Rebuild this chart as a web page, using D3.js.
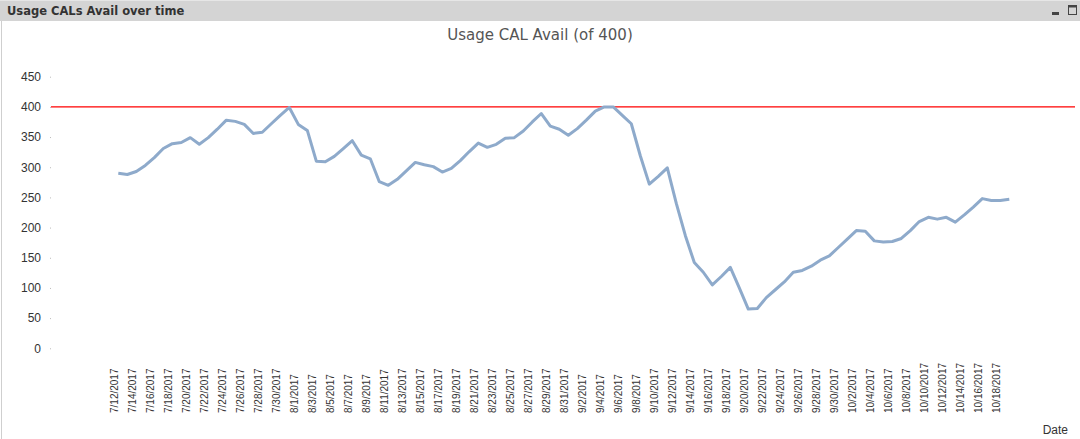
<!DOCTYPE html>
<html><head><meta charset="utf-8">
<script src="https://cdn.jsdelivr.net/npm/d3@7"></script>
<style>
html,body{margin:0;padding:0;background:#fff;}
svg{display:block;}
</style></head>
<body>
<svg id="c" width="1080" height="439"></svg>
<script>
const panelTitle = "Usage CALs Avail over time";
const chartTitle = "Usage CAL Avail (of 400)";
const xAxisTitle = "Date";
const startDate = "2017-07-12";
const endDate = "2017-10-19";
const values = [
 290,288,293,303,316,331,339,341,349,338,349,363,378,376,371,356,358,372,386,399,
 371,361,310,309,318,331,344,320,314,276,270,280,294,308,304,301,292,298,311,326,
 340,333,338,348,349,360,375,389,368,363,353,
 364,378,393,400,400,386,372,319,272,285,299,240,187,142,126,105,119,134,100,65,
 66,84,97,110,126,129,136,146,153,167,
 181,195,194,178,176,177,182,195,210,217,214,217,209,221,234,248,245,245,247
];
const yTicks = [0,50,100,150,200,250,300,350,400,450];
const refValue = 400;

const parse = d3.timeParse("%Y-%m-%d");
const dates = d3.timeDay.range(parse(startDate), d3.timeDay.offset(parse(endDate),1));
const data = dates.map((d,i)=>({date:d, value:values[i]}));
const tickDates = dates.filter((d,i)=> i%2===0 && d3.timeDay.count(d, parse("2017-10-18"))>=0);
const fmt = d => (d.getMonth()+1)+"/"+d.getDate()+"/"+d.getFullYear();

const svg = d3.select("#c");
// panel header
svg.append("rect").attr("x",0).attr("y",0).attr("width",1080).attr("height",21).attr("fill","#d4d4d4");
svg.append("line").attr("x1",0).attr("x2",1080).attr("y1",0.5).attr("y2",0.5).attr("stroke","#e6e6e6");
svg.append("line").attr("x1",1.5).attr("x2",1.5).attr("y1",21).attr("y2",439).attr("stroke","#cfcfcf");
svg.append("text").attr("x",7).attr("y",15).text(panelTitle)
  .attr("font-family","'DejaVu Sans', Verdana, sans-serif").attr("font-weight","bold")
  .attr("font-size",11.5).attr("fill","#333");
svg.append("rect").attr("x",1052).attr("y",12).attr("width",7).attr("height",3).attr("fill","#444");
svg.append("rect").attr("x",1068.5).attr("y",5.5).attr("width",8).attr("height",9).attr("fill","none").attr("stroke","#444");
svg.append("rect").attr("x",1068.5).attr("y",5.5).attr("width",8).attr("height",2).attr("fill","#444");

const x = d3.scaleTime().domain([parse(startDate), parse("2017-10-18")]).range([118.3, 1000.3]);
const y = d3.scaleLinear().domain([0,450]).range([348.3, 76.7]);

svg.append("text").attr("x",540).attr("y",40).attr("text-anchor","middle")
  .attr("font-family","'DejaVu Sans', Verdana, sans-serif").attr("font-size",15).attr("fill","#555").text(chartTitle);

// y axis
const yAxis = d3.axisLeft(y).tickValues(yTicks).tickSize(1).tickPadding(9);
const gy = svg.append("g").attr("transform","translate(51,0)").call(yAxis);
gy.select(".domain").remove();
gy.selectAll(".tick line").attr("stroke","#bbb");
gy.selectAll(".tick text").attr("font-family","'Liberation Sans', Arial, sans-serif").attr("font-size",12).attr("fill","#333");

// x axis labels
const xAxis = d3.axisBottom(x).tickValues(tickDates).tickFormat(fmt).tickSize(0);
const gx = svg.append("g").attr("transform","translate(0,413)").call(xAxis);
gx.select(".domain").remove();
gx.selectAll(".tick text")
  .attr("font-family","'Liberation Sans', Arial, sans-serif").attr("font-size",10).attr("fill","#333")
  .attr("text-anchor","start").attr("transform","rotate(-90)").attr("x",0).attr("y",0).attr("dy","0.35em").attr("dx",0);
gx.selectAll(".tick").attr("transform", d => `translate(${x(d)-4},0)`);

svg.append("text").attr("x",1068).attr("y",434).attr("text-anchor","end")
  .attr("font-family","'Liberation Sans', Arial, sans-serif").attr("font-size",12).attr("fill","#333").text(xAxisTitle);

// reference line
svg.append("line").attr("x1",51).attr("x2",1075).attr("y1",y(refValue)).attr("y2",y(refValue))
  .attr("stroke","#ff0000").attr("stroke-width",1.2);

// data line
const line = d3.line().x(d=>x(d.date)).y(d=>y(d.value));
svg.append("path").datum(data).attr("d",line).attr("fill","none")
  .attr("stroke","#8eaacb").attr("stroke-width",3).attr("stroke-linejoin","round");
</script>
</body></html>
